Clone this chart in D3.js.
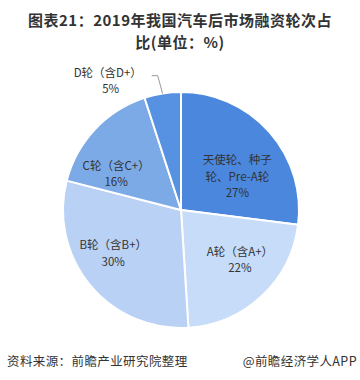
<!DOCTYPE html>
<html><head><meta charset="utf-8">
<script src="https://cdn.jsdelivr.net/npm/d3@7"></script>
<style>body{margin:0;background:#fff;}svg{display:block;}</style>
</head><body>
<script>
const categories = ["天使轮、种子轮、Pre-A轮", "A轮（含A+）", "B轮（含B+）", "C轮（含C+）", "D轮（含D+）"];
const values = [27, 22, 30, 16, 5];
const labelLines = [["天使轮、种子", "轮、Pre-A轮"], ["A轮（含A+）"], ["B轮（含B+）"], ["C轮（含C+）"], ["D轮（含D+）"]];
const colors = ["#4a87dd", "#c6dcf9", "#b9d1f5", "#7caae7", "#5791e1"];

const W = 360, H = 380;
const cx = 181, cy = 210, R = 118;
const font = "'Noto Sans CJK SC', 'Noto Sans', sans-serif";
const labelNudge = [[5, 12], [12, 0], [-15, 0], [-15, 11]];

const svg = d3.select("body").append("svg").attr("width", W).attr("height", H);
svg.append("rect").attr("width", W).attr("height", H).attr("fill", "#fff");

// title
svg.append("text").attr("x", 180).attr("y", 26).attr("text-anchor", "middle")
  .attr("font-family", font).attr("font-weight", "bold").attr("font-size", 15).attr("letter-spacing", 0.5)
  .attr("fill", "#333").text("图表21：2019年我国汽车后市场融资轮次占");
svg.append("text").attr("x", 180).attr("y", 48).attr("text-anchor", "middle")
  .attr("font-family", font).attr("font-weight", "bold").attr("font-size", 15).attr("letter-spacing", 0.5)
  .attr("fill", "#333").text("比(单位：%)");

const data = categories.map((c, i) => ({ c, v: values[i], lines: labelLines[i], color: colors[i] }));
const pie = d3.pie().value(d => d.v).sort(null);
const arcs = pie(data);
const arc = d3.arc().innerRadius(0).outerRadius(R);

const g = svg.append("g").attr("transform", `translate(${cx},${cy})`);
g.selectAll("path").data(arcs).join("path")
  .attr("d", arc).attr("fill", d => d.data.color)
  .attr("stroke", "#fff").attr("stroke-width", 2).attr("stroke-linejoin", "round");

// inside labels
const inner = d3.arc().innerRadius(R * 0.58).outerRadius(R * 0.58);
arcs.forEach((a, i) => {
  if (i === 4) return;
  let [x, y] = inner.centroid(a);
  x += labelNudge[i][0]; y += labelNudge[i][1];
  const lines = a.data.lines.concat([a.data.v + "%"]);
  const lh = 16.5;
  const t = g.append("text").attr("text-anchor", "middle").attr("font-family", font)
    .attr("font-size", 11.5).attr("fill", "#333");
  lines.forEach((l, k) => {
    t.append("tspan").attr("x", x).attr("y", y + (k - (lines.length - 1) / 2) * lh + 4).text(l);
  });
});

// outside label for D
const aD = arcs[4];
const mid = (aD.startAngle + aD.endAngle) / 2;
const p0 = [Math.sin(mid) * R, -Math.cos(mid) * R];
const p1 = [Math.sin(mid) * (R + 18) - 2, -Math.cos(mid) * (R + 18)];
const p2 = [p1[0] - 6, p1[1]];
g.append("polyline").attr("points", [p0, p1, p2].map(p => p.join(",")).join(" "))
  .attr("fill", "none").attr("stroke", "#999").attr("stroke-width", 1);
const tD = g.append("text").attr("text-anchor", "middle").attr("font-family", font)
  .attr("font-size", 11.5).attr("fill", "#333");
tD.append("tspan").attr("x", p2[0] - 44).attr("y", p2[1] + 1).text(aD.data.lines[0]);
tD.append("tspan").attr("x", p2[0] - 41).attr("y", p2[1] + 17).text(aD.data.v + "%");

// footer
svg.append("text").attr("x", 7).attr("y", 366).attr("font-family", font).attr("font-size", 12.5)
  .attr("letter-spacing", 0.4).attr("fill", "#333").text("资料来源：前瞻产业研究院整理");
svg.append("text").attr("x", 357).attr("y", 366).attr("text-anchor", "end").attr("font-family", font)
  .attr("font-size", 12.5).attr("letter-spacing", 0.4).attr("fill", "#333").text("@前瞻经济学人APP");
</script>
</body></html>
